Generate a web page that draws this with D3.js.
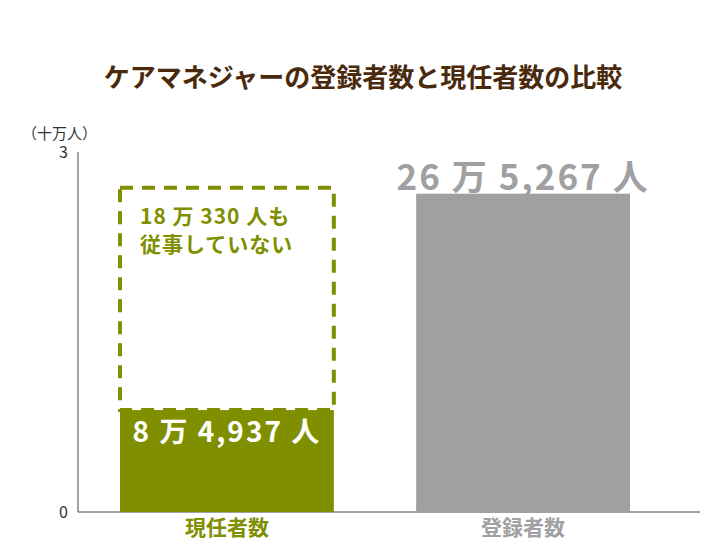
<!DOCTYPE html>
<html><head><meta charset="utf-8">
<script src="https://cdn.jsdelivr.net/npm/d3@7"></script>
<style>body{margin:0;background:#fff}text{font-family:"Noto Sans CJK JP","Noto Sans",sans-serif}</style>
</head><body><svg id="c" width="726" height="545"></svg>
<script>
// values in 十万人
var categories = ["現任者数", "登録者数"];
var values = [0.84937, 2.65267];
var registered = 2.65267;
var valueLabels = ["8 万 4,937 人", "26 万 5,267 人"];
var yTicks = [0, 3];

var svg = d3.select("#c");
var x0 = 78, x1 = 700;
var y = d3.scaleLinear().domain([0, 3]).range([512, 152]);
var x = d3.scaleBand().domain(categories).range([120, 630]).paddingInner(0.278).paddingOuter(0);

svg.append("text").attr("x", 363).attr("y", 87).attr("text-anchor", "middle")
  .attr("font-size", 26).attr("font-weight", "bold").attr("fill", "#4a2a0c")
  .text("ケアマネジャーの登録者数と現任者数の比較");
svg.append("text").attr("x", 22).attr("y", 139).attr("font-size", 15).attr("fill", "#333").text("（十万人）");

svg.append("line").attr("x1", x0).attr("x2", x0).attr("y1", y(3)).attr("y2", y(0)).attr("stroke", "#444");
svg.append("line").attr("x1", x0).attr("x2", x1).attr("y1", y(0)).attr("y2", y(0)).attr("stroke", "#444");
svg.selectAll(".tk").data(yTicks).enter().append("text")
  .attr("x", 68).attr("y", function(d){ return y(d) + 6; }).attr("text-anchor", "end")
  .attr("font-size", 16).attr("fill", "#333").text(function(d){ return d; });

var colors = ["#7f8f00", "#a0a0a2"];
// dashed outline showing non-working registrants
svg.append("rect").attr("x", x(categories[0])).attr("width", x.bandwidth())
  .attr("y", y(registered) - 6).attr("height", y(values[0]) - y(registered) + 6)
  .attr("fill", "none").attr("stroke", colors[0]).attr("stroke-width", 4).attr("stroke-dasharray", "13,9");

svg.selectAll(".bar").data(values).enter().append("rect")
  .attr("x", function(d, i){ return x(categories[i]); }).attr("width", x.bandwidth())
  .attr("y", function(d){ return y(d); }).attr("height", function(d){ return y(0) - y(d); })
  .attr("fill", function(d, i){ return colors[i]; });

svg.append("text").attr("x", x(categories[0]) + x.bandwidth() / 2).attr("y", y(values[0]) + 32)
  .attr("text-anchor", "middle").attr("font-size", 28).attr("font-weight", "bold").attr("letter-spacing", 2)
  .attr("fill", "#fff").text(valueLabels[0]);
svg.append("text").attr("x", x(categories[1]) + x.bandwidth() / 2).attr("y", y(values[1]) - 4)
  .attr("text-anchor", "middle").attr("font-size", 35).attr("font-weight", "bold").attr("letter-spacing", 2)
  .attr("fill", "#a0a0a2").text(valueLabels[1]);

svg.append("text").attr("x", 140).attr("y", 224).attr("font-size", 21).attr("font-weight", "bold").attr("letter-spacing", 1).attr("fill", colors[0]).text("18 万 330 人も");
svg.append("text").attr("x", 140).attr("y", 252).attr("font-size", 21).attr("font-weight", "bold").attr("letter-spacing", 1).attr("fill", colors[0]).text("従事していない");

svg.selectAll(".cat").data(categories).enter().append("text")
  .attr("x", function(d){ return x(d) + x.bandwidth() / 2; }).attr("y", 535).attr("text-anchor", "middle")
  .attr("font-size", 21).attr("font-weight", "bold").attr("fill", function(d, i){ return colors[i]; }).text(function(d){ return d; });
</script></body></html>
